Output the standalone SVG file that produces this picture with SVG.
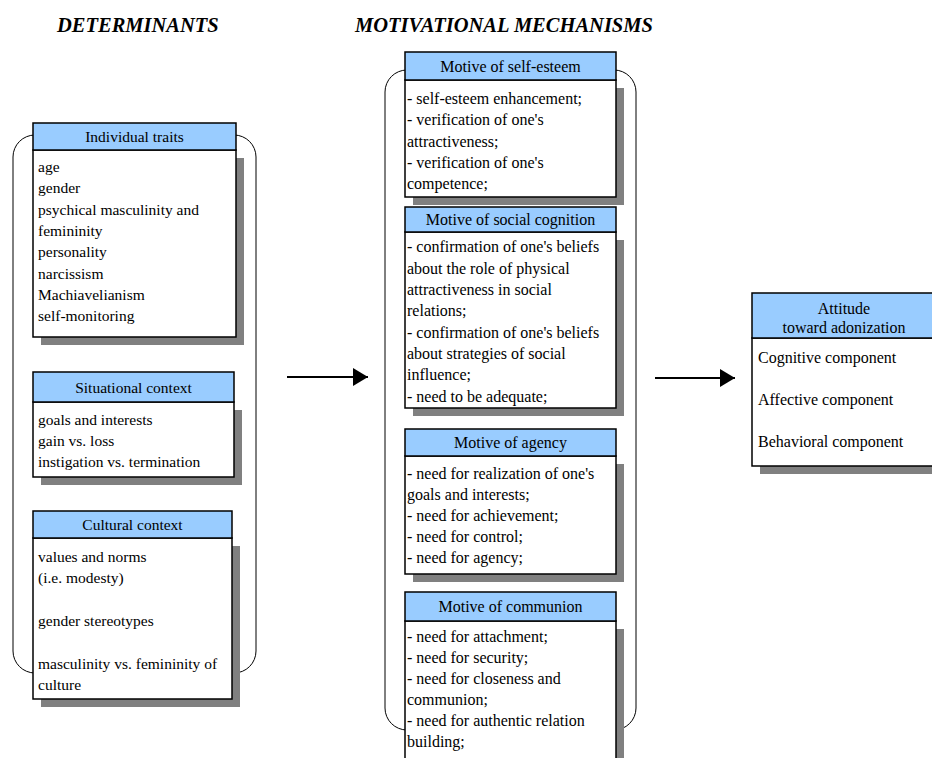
<svg xmlns="http://www.w3.org/2000/svg" width="932" height="758" viewBox="0 0 932 758">
<style>
text{font-family:"Liberation Serif","Times New Roman",serif;font-size:16px;fill:#000}
.title{font-size:20.5px;font-weight:bold;font-style:italic}
.sm{font-size:15.5px}
.hd{fill:#99CCFF;stroke:#000;stroke-width:1.5}
.bd{fill:#fff;stroke:#000;stroke-width:1.5}
.sh{fill:#808080;stroke:none}
.br{fill:none;stroke:#000;stroke-width:1}
.c{text-anchor:middle}
.arr{stroke:#000;stroke-width:2;fill:none}
</style>
<defs>
<marker id="ah" markerWidth="16" markerHeight="18" refX="15" refY="9" orient="auto" markerUnits="userSpaceOnUse">
<path d="M0,0 L15,9 L0,18 Z" fill="#000"/>
</marker>
</defs>
<rect width="932" height="758" fill="#fff"/>
<text class="title" x="57" y="32">DETERMINANTS</text>
<text class="title" x="355" y="32">MOTIVATIONAL MECHANISMS</text>

<g id="brackets">
<rect class="br" x="13" y="135" width="243" height="538" rx="22" ry="22"/>
<rect class="br" x="385" y="70" width="251" height="660" rx="22" ry="22"/>
</g>

<g id="individual-traits">
<rect class="sh" x="41" y="158" width="203" height="187"/>
<rect class="bd" x="33" y="150" width="203" height="187"/>
<rect class="hd" x="33" y="123" width="203" height="27"/>
<text class="c sm" x="134.5" y="142">Individual traits</text>
<text class="sm" x="38"><tspan x="38" y="172">age</tspan><tspan x="38" y="193">gender</tspan><tspan x="38" y="215">psychical masculinity and</tspan><tspan x="38" y="236">femininity</tspan><tspan x="38" y="257">personality</tspan><tspan x="38" y="279">narcissism</tspan><tspan x="38" y="300">Machiavelianism</tspan><tspan x="38" y="321">self-monitoring</tspan></text>
</g>

<g id="situational-context">
<rect class="sh" x="41" y="410" width="201" height="75"/>
<rect class="bd" x="33" y="402" width="201" height="75"/>
<rect class="hd" x="33" y="372" width="201" height="30"/>
<text class="c sm" x="133.5" y="393">Situational context</text>
<text class="sm" x="38"><tspan x="38" y="425">goals and interests</tspan><tspan x="38" y="446">gain vs. loss</tspan><tspan x="38" y="467">instigation vs. termination</tspan></text>
</g>

<g id="cultural-context">
<rect class="sh" x="41" y="546" width="199" height="161"/>
<rect class="bd" x="33" y="538" width="199" height="161"/>
<rect class="hd" x="33" y="511" width="199" height="27"/>
<text class="c sm" x="132.5" y="530">Cultural context</text>
<text class="sm" x="38"><tspan x="38" y="562">values and norms</tspan><tspan x="38" y="583">(i.e. modesty)</tspan><tspan x="38" y="626">gender stereotypes</tspan><tspan x="38" y="669">masculinity vs. femininity of</tspan><tspan x="38" y="690">culture</tspan></text>
</g>

<g id="motive-self-esteem">
<rect class="sh" x="413" y="88" width="211" height="117"/>
<rect class="bd" x="405" y="80" width="211" height="117"/>
<rect class="hd" x="405" y="52" width="211" height="28"/>
<text class="c" x="510.5" y="71.5">Motive of self-esteem</text>
<text x="407"><tspan x="407" y="104">- self-esteem enhancement;</tspan><tspan x="407" y="125">- verification of one's</tspan><tspan x="407" y="147">attractiveness;</tspan><tspan x="407" y="168">- verification of one's</tspan><tspan x="407" y="189">competence;</tspan></text>
</g>

<g id="motive-social-cognition">
<rect class="sh" x="413" y="240" width="211" height="176"/>
<rect class="bd" x="405" y="232" width="211" height="176"/>
<rect class="hd" x="405" y="207" width="211" height="25"/>
<text class="c" x="510.5" y="225">Motive of social cognition</text>
<text x="407"><tspan x="407" y="252">- confirmation of one's beliefs</tspan><tspan x="407" y="274">about the role of physical</tspan><tspan x="407" y="295">attractiveness in social</tspan><tspan x="407" y="316">relations;</tspan><tspan x="407" y="338">- confirmation of one's beliefs</tspan><tspan x="407" y="359">about strategies of social</tspan><tspan x="407" y="380">influence;</tspan><tspan x="407" y="402">- need to be adequate;</tspan></text>
</g>

<g id="motive-agency">
<rect class="sh" x="413" y="464" width="211" height="118"/>
<rect class="bd" x="405" y="456" width="211" height="118"/>
<rect class="hd" x="405" y="429" width="211" height="27"/>
<text class="c" x="510.5" y="448">Motive of agency</text>
<text x="407"><tspan x="407" y="479">- need for realization of one's</tspan><tspan x="407" y="500">goals and interests;</tspan><tspan x="407" y="521">- need for achievement;</tspan><tspan x="407" y="542">- need for control;</tspan><tspan x="407" y="563">- need for agency;</tspan></text>
</g>

<g id="motive-communion">
<rect class="sh" x="413" y="629" width="211" height="150"/>
<rect class="bd" x="405" y="621" width="211" height="150"/>
<rect class="hd" x="405" y="592" width="211" height="29"/>
<text class="c" x="510.5" y="612">Motive of communion</text>
<text x="407"><tspan x="407" y="642">- need for attachment;</tspan><tspan x="407" y="663">- need for security;</tspan><tspan x="407" y="684">- need for closeness and</tspan><tspan x="407" y="705">communion;</tspan><tspan x="407" y="726">- need for authentic relation</tspan><tspan x="407" y="747">building;</tspan></text>
</g>

<g id="attitude">
<rect class="sh" x="760" y="346" width="184" height="128"/>
<rect class="bd" x="752" y="338" width="184" height="128"/>
<rect class="hd" x="752" y="293" width="184" height="45"/>
<text class="c" x="844" y="314">Attitude</text>
<text class="c" x="844" y="333">toward adonization</text>
<text x="758"><tspan x="758" y="363">Cognitive component</tspan><tspan x="758" y="405">Affective component</tspan><tspan x="758" y="447">Behavioral component</tspan></text>
</g>

<g id="connectors">
<line class="arr" x1="287" y1="377" x2="368" y2="377" marker-end="url(#ah)"/>
<line class="arr" x1="655" y1="378" x2="735" y2="378" marker-end="url(#ah)"/>
</g>
</svg>
